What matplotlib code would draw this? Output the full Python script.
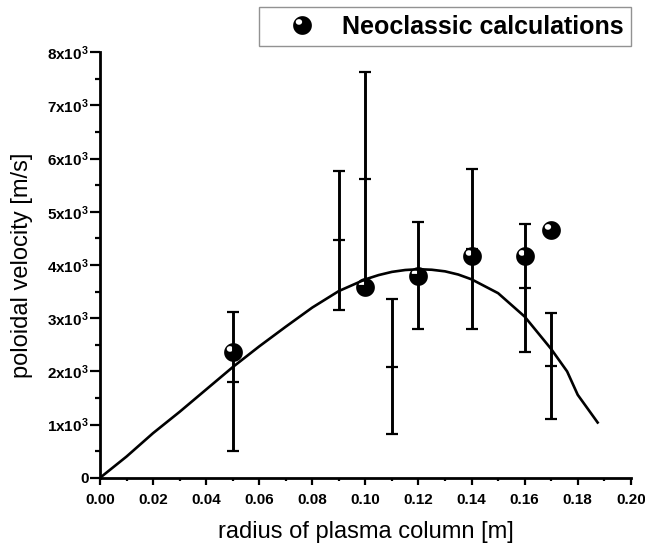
import matplotlib

matplotlib.use("Agg")

import matplotlib.pyplot as plt
import numpy as np
from matplotlib.path import Path
from matplotlib.ticker import FuncFormatter, MultipleLocator

plt.rcParams["font.family"] = ["Liberation Sans", "DejaVu Sans"]
plt.rcParams["mathtext.fontset"] = "custom"
plt.rcParams["mathtext.rm"] = "Liberation Sans:bold"
plt.rcParams["mathtext.default"] = "rm"

# model curve (solid line)
curve_r = [0.0, 0.01, 0.02, 0.03, 0.04, 0.05, 0.06, 0.07, 0.08, 0.09, 0.10,
           0.105, 0.11, 0.115, 0.12, 0.125, 0.13, 0.135, 0.14, 0.15, 0.16,
           0.17, 0.176, 0.18, 0.1875]
curve_v = [0, 400, 840, 1240, 1660, 2080, 2470, 2840, 3200, 3510, 3730,
           3810, 3870, 3905, 3920, 3910, 3880, 3820, 3730, 3470, 3030,
           2420, 2000, 1560, 1040]

# neoclassic calculations (sphere markers)
neo_r = [0.05, 0.10, 0.12, 0.14, 0.16, 0.17]
neo_v = [2360, 3580, 3800, 4170, 4170, 4660]

# measurements with error bars
meas_r = [0.05, 0.09, 0.10, 0.11, 0.12, 0.14, 0.16, 0.17]
meas_v = [1810, 4460, 5610, 2090, 3805, 4300, 3570, 2100]
meas_err = [1300, 1305, 2010, 1265, 1000, 1500, 1200, 1000]


def sphere_marker():
    # black disc with a small white highlight hole at the upper left
    t = np.linspace(0, 2 * np.pi, 60)
    outer = np.column_stack([np.cos(t), np.sin(t)])
    inner = np.column_stack([-0.38 + 0.34 * np.cos(-t), 0.38 + 0.30 * np.sin(-t)])
    verts = np.vstack([outer, outer[:1], inner, inner[:1]])
    codes = ([Path.MOVETO] + [Path.LINETO] * (len(outer) - 1) + [Path.CLOSEPOLY]
             + [Path.MOVETO] + [Path.LINETO] * (len(inner) - 1) + [Path.CLOSEPOLY])
    return Path(verts, codes)


def ytick_label(v, _):
    if v == 0:
        return "0"
    return f"{int(round(v / 1000))}x10$^{{3}}$"


fig = plt.figure(figsize=(6.45, 5.48), dpi=100)
ax = fig.add_axes([0.155, 0.128, 0.823, 0.777])

ax.plot(curve_r, curve_v, color="black", lw=1.9)

ax.errorbar(meas_r, meas_v, yerr=meas_err, fmt="_", color="black",
            markersize=8, markeredgewidth=1.6, elinewidth=2.1,
            capsize=4, capthick=1.6)

marker = sphere_marker()
ax.plot(neo_r, neo_v, ls="none", marker=marker, markersize=13.5,
        color="black", markeredgewidth=0, label="Neoclassic calculations",
        zorder=5)

ax.set_xlim(0, 0.20)
ax.set_ylim(0, 8000)
ax.xaxis.set_major_locator(MultipleLocator(0.02))
ax.xaxis.set_minor_locator(MultipleLocator(0.01))
ax.yaxis.set_major_locator(MultipleLocator(1000))
ax.yaxis.set_minor_locator(MultipleLocator(500))
ax.xaxis.set_major_formatter(FuncFormatter(lambda v, _: f"{v:.2f}"))
ax.yaxis.set_major_formatter(FuncFormatter(ytick_label))

for side in ("top", "right"):
    ax.spines[side].set_visible(False)
for side in ("left", "bottom"):
    ax.spines[side].set_linewidth(2.0)

ax.tick_params(axis="x", which="major", direction="out", length=5, width=1.6,
               pad=6, labelsize=11)
ax.tick_params(axis="x", which="minor", direction="out", length=2.5, width=1.6)
ax.tick_params(axis="y", which="major", direction="out", length=7, width=1.6,
               pad=1, labelsize=11)
ax.tick_params(axis="y", which="minor", direction="out", length=3.5, width=1.6)
for lab in ax.get_xticklabels() + ax.get_yticklabels():
    lab.set_fontweight("bold")

ax.set_xlabel("radius of plasma column [m]", fontsize=17, labelpad=10)
ax.set_ylabel("poloidal velocity [m/s]", fontsize=17, labelpad=10)

leg = fig.legend(loc="upper right", bbox_to_anchor=(0.978, 0.987),
                 borderaxespad=0, prop={"size": 18, "weight": "bold"},
                 fancybox=False, edgecolor="#777777", handletextpad=0.15,
                 borderpad=0.3, handlelength=2.84)
leg.get_frame().set_linewidth(1.0)

fig.savefig("out.png", dpi=100)
